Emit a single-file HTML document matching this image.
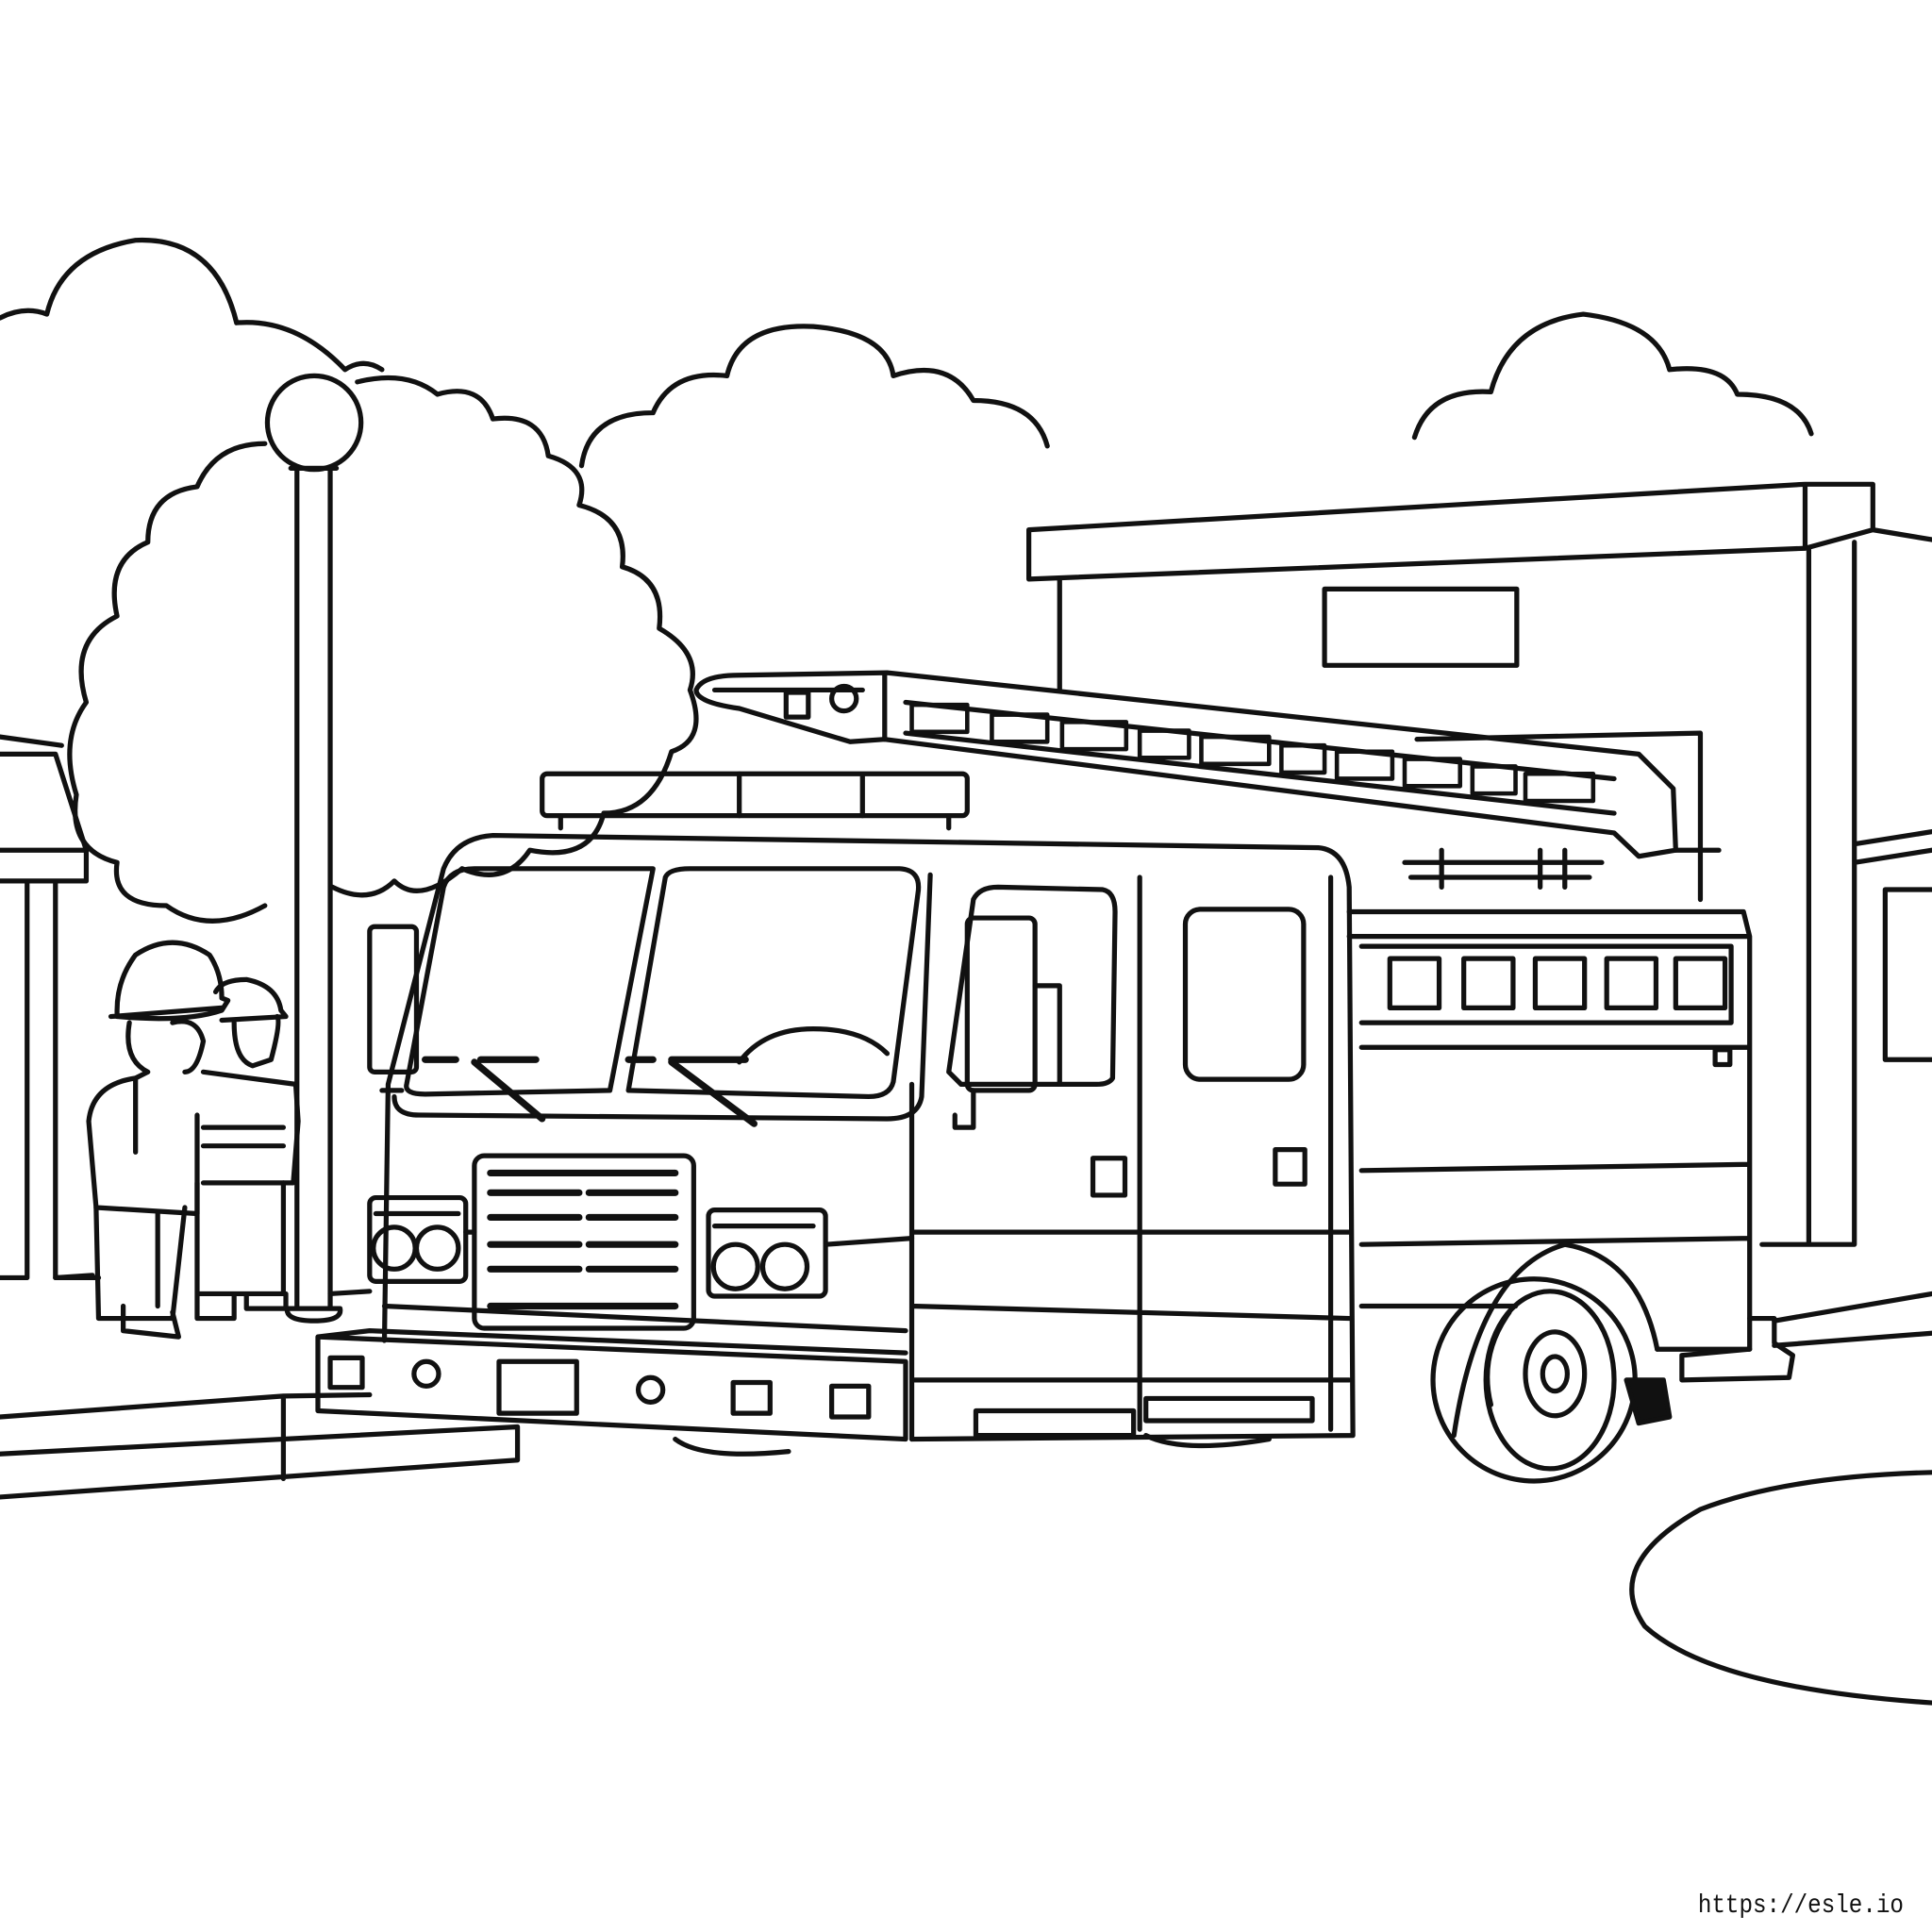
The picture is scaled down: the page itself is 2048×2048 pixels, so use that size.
<!DOCTYPE html>
<html><head><meta charset="utf-8"><style>
html,body{margin:0;padding:0;background:#fff;width:2048px;height:2048px;overflow:hidden}
svg{display:block}
</style></head><body>
<svg width="2048" height="2048" viewBox="0 0 1568 1568" xmlns="http://www.w3.org/2000/svg">
<g fill="none" stroke="#111" stroke-width="4" stroke-linejoin="round" stroke-linecap="round">
<!-- clouds -->
<path d="M0,258 Q20,248 38,255 Q50,205 110,195 Q175,192 192,262 Q240,258 280,300 Q295,290 310,300"/>
<path d="M472,378 Q478,335 530,335 Q545,300 590,305 Q600,262 660,265 Q720,270 725,305 Q770,290 790,325 Q840,325 850,362"/>
<path d="M1148,355 Q1160,315 1210,318 Q1225,262 1285,255 Q1345,262 1355,300 Q1400,295 1410,320 Q1460,320 1470,352"/>
<!-- tree -->
<path d="M215,735 Q170,760 135,735 Q90,735 95,700 Q55,690 62,645 Q48,600 70,570 Q55,520 95,500 Q85,455 120,440 Q120,400 160,395 Q175,360 215,360 M290,310 Q330,300 355,320 Q390,310 400,340 Q440,335 445,370 Q480,380 470,410 Q510,420 505,460 Q540,470 535,510 Q570,530 560,560 Q575,600 545,610 Q530,660 490,660 Q480,700 430,690 Q410,720 375,705 Q340,735 320,715 Q300,735 270,720"/>
<!-- lamp -->
<circle cx="255" cy="343" r="38"/>
<path d="M241,380 L241,1062 M268,380 L268,1062 M236,380 L273,380 M233,1062 Q232,1072 255,1072 Q278,1072 276,1062 Z"/>
<!-- left building -->
<path d="M0,598 L50,605 M0,612 L14,612 L45,612 L70,690 L70,715 L0,715 M0,690 L70,690 M22,715 L22,1037 M45,715 L45,1037 M0,1037 L22,1037 M45,1037 L75,1035"/>
<!-- sidewalk -->
<path d="M0,1150 L230,1133 L300,1132 M0,1180 L420,1158 M0,1215 L420,1185 L420,1158 M230,1133 L230,1200 M45,1037 L80,1037"/>
<path d="M268,1050 L300,1048"/>
<!-- road curve right -->
<path d="M1568,1382 Q1390,1370 1335,1320 Q1300,1270 1380,1225 Q1450,1198 1568,1195"/>
<path d="M1440,1072 L1568,1050 M1440,1092 L1568,1082"/>
<!-- station -->
<path d="M835,430 L1465,393 L1520,393 L1520,430 L1568,438 M835,430 L835,470 L1465,445 L1465,430 L1465,393 M1465,445 L1520,430 M860,470 L860,560 M1505,440 L1505,1010 M1468,445 L1468,1010 M1430,1010 L1505,1010 M1505,685 L1568,675 M1505,700 L1568,690"/>
<rect x="1075" y="478" width="156" height="62"/>
<rect x="1530" y="722" width="40" height="138"/>
<path d="M1150,600 L1380,595 L1380,690"/>
<!-- ladder -->
<path d="M565,560 Q570,548 600,548 L720,546 L1330,612 L1358,640 L1360,690 L1330,695 L1310,676 L718,600 L690,602 L600,575 Q565,570 565,560 Z"/>
<path d="M718,548 L718,600 M735,570 L1310,632 M735,595 L1310,660 M580,560 L700,560"/>
<g stroke-width="3.5">
<rect x="740" y="572" width="45" height="22"/><rect x="805" y="580" width="45" height="22"/><rect x="862" y="586" width="52" height="22"/><rect x="925" y="593" width="40" height="22"/><rect x="975" y="598" width="55" height="22"/><rect x="1040" y="605" width="35" height="22"/><rect x="1085" y="610" width="45" height="22"/><rect x="1140" y="616" width="45" height="22"/><rect x="1195" y="622" width="35" height="22"/><rect x="1238" y="628" width="55" height="22"/>
</g>
<circle cx="685" cy="567" r="10"/><rect x="638" y="562" width="18" height="20"/>
<path d="M1140,700 L1300,700 M1145,712 L1290,712 M1250,690 L1250,720 M1270,690 L1270,720 M1170,690 L1170,720 M1360,690 L1395,690 M1380,690 L1380,730"/>
<!-- light bar -->
<rect x="440" y="628" width="345" height="34" rx="4"/>
<path d="M600,628 L600,662 M700,630 L700,662 M455,662 L455,672 M770,662 L770,672"/>
<!-- cab body -->
<path d="M312,1088 L315,880 L360,705 Q370,680 400,678 L1070,688 Q1092,690 1095,720 L1098,1165 L740,1168"/>
<path d="M310,885 L326,885"/>
<!-- windshield -->
<path d="M330,880 L360,720 Q365,705 385,705 L530,705 L495,885 L345,888 Q328,888 330,880 Z"/>
<path d="M510,885 L540,712 Q543,705 560,705 L730,705 Q748,706 745,725 L725,878 Q722,890 705,890 Z"/>
<path d="M320,890 Q320,905 340,905 L720,908 Q745,908 748,890 L755,710"/>
<path d="M600,862 Q620,835 660,835 Q700,835 720,855"/>
<path d="M345,860 L370,860 M390,860 L435,860 M510,860 L530,860 M545,860 L605,860 M385,862 L440,908 M545,862 L612,912" stroke-width="5.5"/>
<!-- side mirror left -->
<rect x="300" y="752" width="38" height="118" rx="4"/>
<!-- grille -->
<rect x="385" y="938" width="178" height="140" rx="8"/>
<path d="M398,952 L548,952 M398,968 L470,968 M478,968 L548,968 M398,988 L470,988 M478,988 L548,988 M398,1010 L470,1010 M478,1010 L548,1010 M398,1030 L470,1030 M478,1030 L548,1030 M398,1060 L548,1060" stroke-width="5.5"/>
<!-- headlights -->
<rect x="300" y="972" width="78" height="68" rx="5"/>
<circle cx="320" cy="1013" r="17"/><circle cx="355" cy="1013" r="17"/>
<rect x="575" y="982" width="95" height="70" rx="5"/>
<circle cx="597" cy="1028" r="18"/><circle cx="637" cy="1028" r="18"/>
<path d="M305,985 L372,985 M580,995 L660,995"/>
<path d="M670,1010 L740,1005 M378,1000 L385,1000 M312,1060 L735,1080"/>
<!-- bumper -->
<path d="M258,1085 L735,1105 L735,1168 L258,1145 Z M258,1085 L300,1080 L735,1098"/>
<rect x="268" y="1102" width="26" height="24"/><circle cx="346" cy="1115" r="10"/>
<rect x="405" y="1105" width="63" height="42"/><circle cx="528" cy="1128" r="10"/>
<rect x="595" y="1122" width="30" height="25"/><rect x="675" y="1125" width="30" height="25"/>
<path d="M548,1168 Q570,1185 640,1178 M930,1165 Q960,1180 1030,1168"/>
<!-- doors -->
<path d="M925,712 L925,1160 M1080,712 L1080,1160 M740,880 L740,1168 M740,1000 L1095,1000 M740,1060 L1095,1070 M740,1120 L1095,1120"/>
<rect x="962" y="738" width="96" height="138" rx="12"/>
<path d="M770,870 L790,730 Q795,720 810,720 L895,722 Q905,724 905,740 L903,875 Q900,880 890,880 L780,880 Z"/>
<rect x="785" y="745" width="55" height="140" rx="5"/>
<path d="M840,800 L860,800 L860,880 M790,885 L790,915 L775,915 L775,905"/>
<rect x="887" y="940" width="26" height="30"/><rect x="1035" y="933" width="24" height="28"/>
<rect x="792" y="1145" width="128" height="20"/><rect x="930" y="1135" width="135" height="18"/>
<!-- rear body -->
<path d="M1095,740 L1415,740 L1420,760 L1420,1095 L1345,1095 M1095,760 L1420,760 M1105,768 L1405,768 L1405,830 L1105,830 M1105,850 L1420,850 M1105,950 L1420,945 M1105,1010 L1420,1005 M1105,1060 L1230,1060"/>
<rect x="1128" y="778" width="40" height="40"/><rect x="1188" y="778" width="40" height="40"/><rect x="1246" y="778" width="40" height="40"/><rect x="1304" y="778" width="40" height="40"/><rect x="1360" y="778" width="40" height="40"/>
<rect x="1392" y="852" width="12" height="12"/>
<path d="M1420,1070 L1440,1070 L1440,1090 L1455,1100 L1452,1118 L1365,1120 L1365,1100 L1420,1095"/>
<!-- wheel -->
<path d="M1180,1165 Q1200,1030 1270,1010 Q1330,1020 1345,1095"/>
<path d="M1225,1065 Q1200,1100 1210,1140"/>
<circle cx="1245" cy="1120" r="82"/>
<ellipse cx="1258" cy="1120" rx="52" ry="72"/>
<ellipse cx="1262" cy="1115" rx="24" ry="34"/>
<ellipse cx="1262" cy="1115" rx="10" ry="14"/>
<path d="M1320,1120 L1350,1120 L1355,1150 L1330,1155 Z" fill="#111"/>
<!-- firefighters -->
<path d="M95,820 Q95,795 110,775 Q140,755 170,775 Q180,790 180,810 L185,812 L180,820 Q150,830 95,825 Z M90,825 L180,818"/>
<path d="M175,805 Q180,795 200,795 Q225,800 228,820 L232,825 L180,828"/>
<path d="M105,830 Q100,860 120,870 L110,875 Q75,880 72,910 L78,980 L160,985 L160,905 M110,875 L110,935"/>
<path d="M140,830 Q160,825 165,845 Q160,870 150,870"/>
<path d="M190,830 Q190,860 205,865 L220,860 Q228,830 225,825"/>
<path d="M165,870 L240,880 L242,910 L238,960 L165,960 M165,915 L230,915 M165,930 L230,930"/>
<path d="M78,980 L80,1070 L140,1070 L150,980 M100,1060 L100,1080 L145,1085 L140,1065 M128,985 L128,1060 M160,960 L160,1050 L230,1050 L230,960 M160,1050 L160,1070 L190,1070 L190,1050 M200,1050 L200,1062 L232,1062 L232,1050"/>
</g>
<text x="1378" y="1552" font-family="Liberation Mono, monospace" font-size="21" textLength="167" lengthAdjust="spacingAndGlyphs" fill="#111">https://esle.io</text>
</svg>
</body></html>
